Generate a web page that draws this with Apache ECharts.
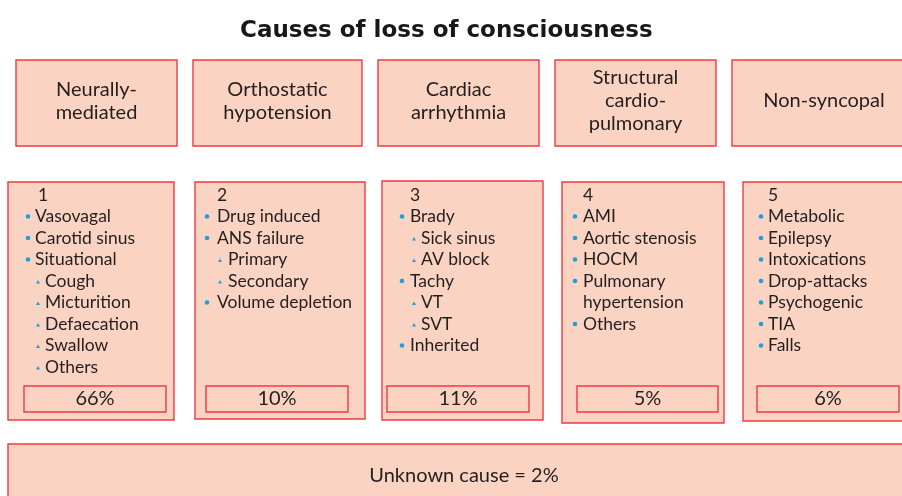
<!DOCTYPE html>
<html><head><meta charset="utf-8">
<script src="https://cdn.jsdelivr.net/npm/echarts@6/dist/echarts.min.js"></script>
<style>html,body{margin:0;padding:0;background:#fff}#c{width:902px;height:496px}</style>
</head><body><div id="c"></div>
<script>
// ---------- data ----------
const chartTitle = 'Causes of loss of consciousness';
const categories = ['Neurally-\nmediated', 'Orthostatic\nhypotension', 'Cardiac\narrhythmia', 'Structural\ncardio-\npulmonary', 'Non-syncopal'];
const groupNumbers = ['1', '2', '3', '4', '5'];
const percentages = [66, 10, 11, 5, 6];
const unknownPercent = 2;
// level: 1 = main bullet, 2 = sub bullet, 0 = continuation line
const items1 = [[1, 'Vasovagal'], [1, 'Carotid sinus'], [1, 'Situational'], [2, 'Cough'], [2, 'Micturition'], [2, 'Defaecation'], [2, 'Swallow'], [2, 'Others']];
const items2 = [[1, 'Drug induced'], [1, 'ANS failure'], [2, 'Primary'], [2, 'Secondary'], [1, 'Volume depletion']];
const items3 = [[1, 'Brady'], [2, 'Sick sinus'], [2, 'AV block'], [1, 'Tachy'], [2, 'VT'], [2, 'SVT'], [1, 'Inherited']];
const items4 = [[1, 'AMI'], [1, 'Aortic stenosis'], [1, 'HOCM'], [1, 'Pulmonary'], [0, 'hypertension'], [1, 'Others']];
const items5 = [[1, 'Metabolic'], [1, 'Epilepsy'], [1, 'Intoxications'], [1, 'Drop-attacks'], [1, 'Psychogenic'], [1, 'TIA'], [1, 'Falls']];
const itemLists = [items1, items2, items3, items4, items5];

// ---------- layout & style ----------
const FONT = 'Lato, "Open Sans", sans-serif';
const TITLE_FONT = '"DejaVu Sans", Lato, sans-serif';
const FILL = '#fbd3c2';
const STROKE = '#ee3b43';
const TEXT = '#231f20';
const BLUE = '#1e9fdb';
const LAY = {
  topX0: [16, 193, 378, 555, 732], topX1: [177, 362, 539, 716, 912], topY0: 60, topY1: 146, topMid: 101,
  midX0: [8, 195, 382, 562, 743], midX1: [174, 365, 543, 724, 912],
  midY0: [182, 182, 181, 182, 182], midY1: [420, 419, 420, 423, 421],
  pctX0: [24, 206, 387, 577, 757], pctX1: [166, 348, 529, 718, 899], pctY0: 386, pctY1: 412,
  bulletX: [20, 12, 20, 13, 18], textX: [27, 22, 28, 21, 25], numX: [30, 22, 28, 21, 25],
  subX: [30, 25, 32, 25, 28], subTextX: [37, 33, 39, 33, 35],
  firstLine: 195, lineStep: 21.5,
  unkX0: 8, unkX1: 912, unkY0: 444, unkY1: 512
};
const BODY = 17.5, TOPSIZE = 20, PCTSIZE = 20;

const chart = echarts.init(document.getElementById('c'), null, {renderer: 'canvas'});

function rectEl(api, x0, y0, x1, y1) {
  const a = api.coord([x0, y0]), b = api.coord([x1, y1]);
  return {type: 'rect', shape: {x: a[0], y: a[1], width: b[0] - a[0], height: b[1] - a[1]},
    style: {fill: FILL, stroke: STROKE, lineWidth: 1.4}};
}
function textEl(api, x, y, text, size, align, extra) {
  const p = api.coord([x, y]);
  return {type: 'text', x: p[0], y: p[1],
    style: Object.assign({text: text, fill: TEXT, font: size + 'px ' + FONT, textAlign: align || 'left', textVerticalAlign: 'middle'}, extra || {})};
}

function renderColumn(params, api) {
  const i = api.value(0);
  const els = [];
  // top category box
  els.push(rectEl(api, LAY.topX0[i], LAY.topY0, LAY.topX1[i], LAY.topY1));
  els.push(textEl(api, (LAY.topX0[i] + Math.min(LAY.topX1[i], 898)) / 2 + (i === 4 ? 9 : 0), LAY.topMid, categories[i], TOPSIZE, 'center', {lineHeight: 23}));
  // detail box
  els.push(rectEl(api, LAY.midX0[i], LAY.midY0[i], LAY.midX1[i], LAY.midY1[i]));
  const left = LAY.midX0[i];
  els.push(textEl(api, left + LAY.numX[i], LAY.firstLine, groupNumbers[i], BODY, 'left'));
  itemLists[i].forEach(function (it, k) {
    const y = LAY.firstLine + LAY.lineStep * (k + 1);
    const lvl = it[0];
    if (lvl === 1) {
      const c = api.coord([left + LAY.bulletX[i], y]);
      els.push({type: 'circle', shape: {cx: c[0], cy: c[1], r: 2.3}, style: {fill: BLUE}});
      els.push(textEl(api, left + LAY.textX[i], y, it[1], BODY, 'left'));
    } else if (lvl === 2) {
      const c = api.coord([left + LAY.subX[i], y + 1]);
      els.push({type: 'polygon', shape: {points: [[c[0] - 2, c[1] + 1.5], [c[0] + 2, c[1] + 1.5], [c[0], c[1] - 2]]}, style: {fill: BLUE}});
      els.push(textEl(api, left + LAY.subTextX[i], y, it[1], BODY, 'left'));
    } else {
      els.push(textEl(api, left + LAY.textX[i], y, it[1], BODY, 'left'));
    }
  });
  // percentage box
  els.push(rectEl(api, LAY.pctX0[i], LAY.pctY0, LAY.pctX1[i], LAY.pctY1));
  els.push(textEl(api, (LAY.pctX0[i] + LAY.pctX1[i]) / 2, (LAY.pctY0 + LAY.pctY1) / 2, percentages[i] + '%', PCTSIZE, 'center'));
  return {type: 'group', children: els};
}

function renderUnknown(params, api) {
  const v = api.value(0);
  return {type: 'group', children: [
    rectEl(api, LAY.unkX0, LAY.unkY0, LAY.unkX1, LAY.unkY1),
    textEl(api, 464, 476, 'Unknown cause = ' + v + '%', PCTSIZE, 'center')
  ]};
}

chart.setOption({
  animation: false,
  backgroundColor: '#ffffff',
  title: {text: chartTitle, left: 235, top: 15,
    textStyle: {fontFamily: TITLE_FONT, fontSize: 23, fontWeight: 'bold', color: '#1a1718'}},
  grid: {left: 0, right: 0, top: 0, bottom: 0},
  xAxis: {type: 'value', min: 0, max: 902, show: false},
  yAxis: {type: 'value', min: 0, max: 496, inverse: true, show: false},
  series: [
    {type: 'custom', renderItem: renderColumn, data: categories.map(function (c, i) { return [i]; }), clip: false, silent: true},
    {type: 'custom', renderItem: renderUnknown, data: [[unknownPercent]], clip: false, silent: true}
  ]
});
</script></body></html>
